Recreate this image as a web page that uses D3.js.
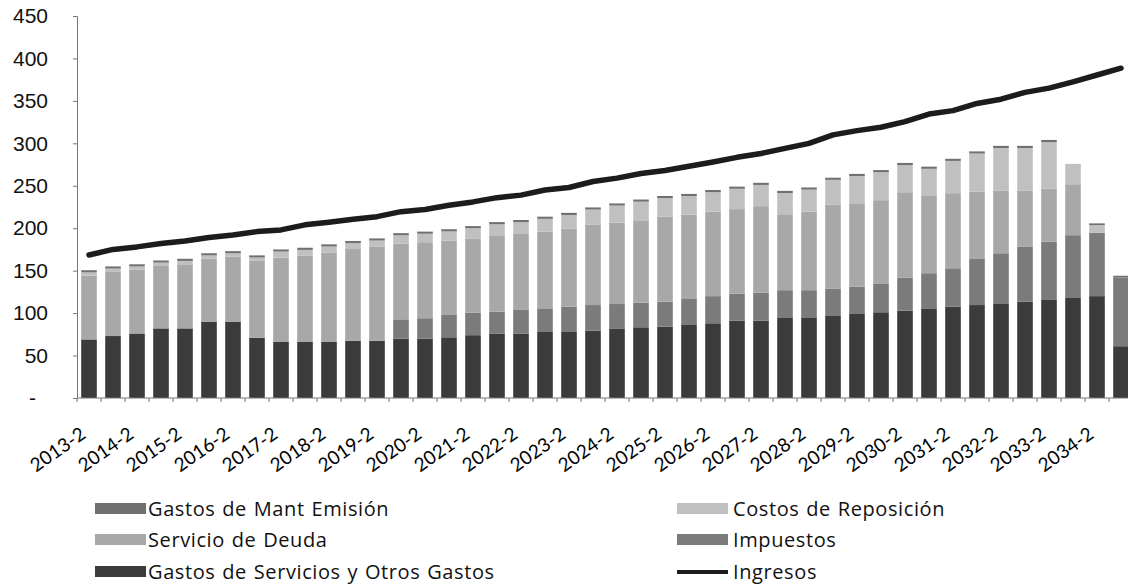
<!DOCTYPE html>
<html>
<head>
<meta charset="utf-8">
<script src="https://cdn.jsdelivr.net/npm/d3@7"></script>
<style>
  html, body { margin: 0; padding: 0; background: #fff; }
  svg { display: block; font-family: Lato, "Noto Sans", sans-serif; }
</style>
</head>
<body>
<svg id="chart" width="1128" height="588"></svg>
<script>
const periods = [
  "2013-2", "2014-1", "2014-2", "2015-1", "2015-2", "2016-1", "2016-2", "2017-1", "2017-2", "2018-1", "2018-2",
  "2019-1", "2019-2", "2020-1", "2020-2", "2021-1", "2021-2", "2022-1", "2022-2", "2023-1", "2023-2", "2024-1",
  "2024-2", "2025-1", "2025-2", "2026-1", "2026-2", "2027-1", "2027-2", "2028-1", "2028-2", "2029-1", "2029-2",
  "2030-1", "2030-2", "2031-1", "2031-2", "2032-1", "2032-2", "2033-1", "2033-2", "2034-1", "2034-2", "2035-1"
];

// stacked from the bottom up
const gastosServicios = [
  69, 73, 76, 82, 82, 90, 90, 71, 66, 66, 66,
  67.5, 67.5, 70, 70, 71.5, 74, 76, 76, 78.5, 78.5, 79.3,
  82, 83.3, 84, 86, 88, 91, 91, 95, 95, 97.4, 99.7,
  101, 102.9, 105.6, 107.6, 109.5, 111.5, 113.5, 115.5, 117.8, 120, 61
];
const impuestos = [
  0, 0, 0, 0, 0, 0, 0, 0, 0, 0, 0,
  0, 0, 22.7, 24, 26.3, 26.5, 25.7, 27.7, 27.1, 29.1, 30.2,
  28.7, 29, 29.5, 31.4, 32, 32, 33, 32, 32, 31.6, 31.3,
  34, 39, 41.4, 45.2, 55, 59, 64.5, 68.5, 74, 74.7, 81
];
const servicioDeuda = [
  75, 75.5, 75, 73.5, 75.5, 74, 76.5, 90.5, 99.5, 101.5, 105.5,
  108, 111, 89, 89.5, 87.5, 87.5, 90, 89.5, 90.5, 92, 94.5,
  96, 97, 100, 98.5, 99.5, 99.5, 102, 89.5, 92.5, 99, 97.5,
  98, 100.5, 91, 88.5, 78.5, 74, 66.5, 62.5, 60, 0, 0
];
const costosReposicion = [
  4, 4, 4, 4, 4, 4, 4, 4, 7, 7, 7,
  7, 7, 10, 10, 11, 12, 13, 14, 15, 16, 18,
  20, 22, 22, 22, 23, 24, 25, 25, 26, 29, 33,
  33, 32, 32, 38, 45, 50, 50, 55, 24, 9, 0
];
const gastosMantEmision = [
  2.5, 2.5, 2.5, 2.5, 2.5, 2.5, 2.5, 2.5, 2.5, 2.5, 2.5,
  2.5, 2.5, 2.5, 2.5, 2.5, 2.5, 2.5, 2.5, 2.5, 2.5, 2.5,
  2.5, 2.5, 2.5, 2.5, 2.5, 2.5, 2.5, 2.5, 2.5, 2.5, 2.5,
  2.5, 2.5, 2.5, 2.5, 2.5, 2.5, 2.5, 2.5, 0, 2, 2
];
const ingresos = [
  168.5, 175, 178, 182, 185, 189, 192, 196, 198, 204, 207,
  210.5, 213.6, 219.5, 222, 227, 231, 236, 239, 245, 248, 255,
  259, 264.5, 268, 273, 278, 283.5, 288, 294, 300, 310, 315,
  319, 325.5, 334.5, 338.5, 347, 352, 360, 365, 372.5, 380.5, 388.5
];

const yTicks = [0, 50, 100, 150, 200, 250, 300, 350, 400, 450];

const seriesKeys = ["gastosServicios", "impuestos", "servicioDeuda", "costosReposicion", "gastosMantEmision"];
const seriesNames = {
  gastosServicios: "Gastos de Servicios y Otros Gastos",
  impuestos: "Impuestos",
  servicioDeuda: "Servicio de Deuda",
  costosReposicion: "Costos de Reposición",
  gastosMantEmision: "Gastos de Mant Emisión"
};
const colors = {
  gastosServicios: "#3b3b3b",
  impuestos: "#7b7b7b",
  servicioDeuda: "#a8a8a8",
  costosReposicion: "#c0c0c0",
  gastosMantEmision: "#707070"
};

const rows = periods.map((p, i) => ({
  period: p,
  gastosServicios: gastosServicios[i],
  impuestos: impuestos[i],
  servicioDeuda: servicioDeuda[i],
  costosReposicion: costosReposicion[i],
  gastosMantEmision: gastosMantEmision[i],
  ingresos: ingresos[i]
}));

const svg = d3.select("#chart");
const LEFT = 77, RIGHT = 1133, TOP = 16, BOTTOM = 398;

const x = d3.scaleBand()
  .domain(periods)
  .range([LEFT, RIGHT])
  .paddingInner(0.35)
  .paddingOuter(0.175);

const y = d3.scaleLinear()
  .domain([0, 450])
  .range([BOTTOM, TOP]);

const stacked = d3.stack().keys(seriesKeys)(rows);

// bars
svg.append("g")
  .selectAll("g")
  .data(stacked)
  .join("g")
    .attr("fill", d => colors[d.key])
  .selectAll("rect")
  .data(d => d)
  .join("rect")
    .attr("x", d => x(d.data.period))
    .attr("width", x.bandwidth())
    .attr("y", d => y(d[1]))
    .attr("height", d => y(d[0]) - y(d[1]));

// y axis (zero shown as "-" like an accounting format)
const yAxis = svg.append("g")
  .attr("transform", `translate(${LEFT},0)`)
  .call(d3.axisLeft(y).tickValues(yTicks).tickSize(4).tickFormat(d => d === 0 ? "-" : d));
yAxis.select(".domain").attr("stroke", "#777");
yAxis.selectAll(".tick line").attr("stroke", "#777");
yAxis.selectAll(".tick text")
  .attr("x", d => d === 0 ? -41 : -29)
  .attr("font-size", 21)
  .attr("fill", "#111");

// x axis: ticks on category boundaries, labels on every second period
const xAxis = svg.append("g")
  .attr("transform", `translate(0,${BOTTOM})`);
xAxis.append("line")
  .attr("x1", LEFT).attr("x2", RIGHT)
  .attr("stroke", "#777");
xAxis.selectAll("line.tk")
  .data(periods)
  .join("line")
    .attr("class", "tk")
    .attr("x1", d => x(d) - x.step() * x.paddingInner() / 2)
    .attr("x2", d => x(d) - x.step() * x.paddingInner() / 2)
    .attr("y1", 0).attr("y2", 4)
    .attr("stroke", "#777");
xAxis.selectAll("text")
  .data(periods.filter((d, i) => i % 2 === 0))
  .join("text")
    .attr("transform", d => `translate(${x(d) + x.bandwidth() / 2 - 2},39) rotate(-35)`)
    .attr("text-anchor", "end")
    .attr("font-size", 19)
    .attr("fill", "#000")
    .text(d => d);

// ingresos line
svg.append("path")
  .datum(rows)
  .attr("fill", "none")
  .attr("stroke", "#1c1c1c")
  .attr("stroke-width", 5.5)
  .attr("stroke-linecap", "round")
  .attr("stroke-linejoin", "round")
  .attr("d", d3.line()
    .x(d => x(d.period) + x.bandwidth() / 2)
    .y(d => y(d.ingresos)));

// legend
const legendItems = [
  { key: "gastosMantEmision", col: 0, row: 0 },
  { key: "costosReposicion", col: 1, row: 0 },
  { key: "servicioDeuda", col: 0, row: 1 },
  { key: "impuestos", col: 1, row: 1 },
  { key: "gastosServicios", col: 0, row: 2 },
  { key: "ingresos", col: 1, row: 2 }
];
const colX = [95, 677];
const textX = [148, 733];
const rowY = [509, 540, 572];

const legend = svg.append("g");
legendItems.forEach(it => {
  const cy = rowY[it.row];
  if (it.key === "ingresos") {
    legend.append("line")
      .attr("x1", colX[it.col]).attr("x2", colX[it.col] + 51)
      .attr("y1", cy).attr("y2", cy)
      .attr("stroke", "#1c1c1c").attr("stroke-width", 4);
  } else {
    legend.append("rect")
      .attr("x", colX[it.col]).attr("y", cy - 6)
      .attr("width", 51).attr("height", 11)
      .attr("fill", colors[it.key]);
  }
  legend.append("text")
    .attr("x", textX[it.col])
    .attr("y", cy)
    .attr("dy", "0.35em")
    .attr("font-family", "'Open Sans', sans-serif")
    .attr("font-size", 20)
    .attr("letter-spacing", 0.6)
    .attr("word-spacing", 1)
    .attr("fill", "#111")
    .text(it.key === "ingresos" ? "Ingresos" : seriesNames[it.key]);
});
</script>
</body>
</html>
